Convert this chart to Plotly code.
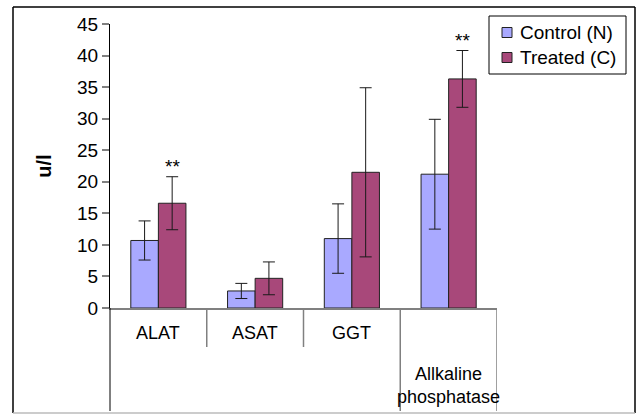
import plotly.graph_objects as go

# ---- data ----
categories = ["ALAT", "ASAT", "GGT", "Allkaline<br>phosphatase"]
control = [10.7, 2.7, 11.0, 21.2]
control_err = [3.1, 1.2, 5.5, 8.7]
treated = [16.6, 4.7, 21.5, 36.3]
treated_err = [4.2, 2.6, 13.4, 4.5]
treated_sig = ["**", "", "", "**"]
series_names = ["Control (N)", "Treated (C)"]
y_ticks = [0, 5, 10, 15, 20, 25, 30, 35, 40, 45]

# ---- layout constants ----
W, H = 639, 415
ML, MR, MT, MB = 110, 142, 24, 107
PW, PH = W - ML - MR, H - MT - MB
BARGAP = 0.43
FONT = "Liberation Sans, Arial, sans-serif"
C_CTRL = "#A9A9FF"
C_TRT = "#A8487A"


def px(xp):
    return (xp - ML) / PW


def py(yp):
    return (H - MB - yp) / PH


xs = list(range(len(categories)))

fig = go.Figure()
err_style = dict(type="data", thickness=1, width=6, color="#1a1a1a")
fig.add_trace(go.Bar(
    x=xs, y=control, name=series_names[0],
    marker=dict(color=C_CTRL, line=dict(color="#222222", width=1)),
    error_y=dict(array=control_err, **err_style),
))
fig.add_trace(go.Bar(
    x=xs, y=treated, name=series_names[1],
    marker=dict(color=C_TRT, line=dict(color="#222222", width=1)),
    error_y=dict(array=treated_err, **err_style),
))

shapes = []
annotations = []

# category separators below the axis
sep_bottom = [347, 347, 411, 411]
for i, b in enumerate(sep_bottom):
    shapes.append(dict(type="line", xref="x", x0=i + 0.5, x1=i + 0.5,
                       yref="paper", y0=0, y1=py(b),
                       line=dict(color="#808080", width=1.5)))
# y axis line extension below axis
shapes.append(dict(type="line", xref="paper", x0=0, x1=0,
                   yref="paper", y0=0, y1=py(411),
                   line=dict(color="#000000", width=1)))

# category labels
for i, c in enumerate(categories):
    multi = "<br>" in c
    annotations.append(dict(x=i, y=0, xref="x", yref="y", text=c,
                            showarrow=False, yanchor="middle",
                            yshift=-77 if multi else -25,
                            font=dict(family=FONT, size=18, color="#000")))

# significance markers above treated bars
off = (1 - BARGAP) / 4
for i, s in enumerate(treated_sig):
    if s:
        annotations.append(dict(x=i + off, y=treated[i] + treated_err[i],
                                xref="x", yref="y", text=s, showarrow=False,
                                yanchor="middle", yshift=10,
                                font=dict(family=FONT, size=19, color="#000")))

# manual legend
shapes.append(dict(type="rect", xref="paper", yref="paper",
                   x0=px(489), x1=px(626), y0=py(74), y1=py(16),
                   line=dict(color="#000", width=1), fillcolor="white"))
for k, (name, col) in enumerate(zip(series_names, [C_CTRL, C_TRT])):
    cy = 32.5 + 25 * k
    shapes.append(dict(type="rect", xref="paper", yref="paper",
                       x0=px(502), x1=px(512), y0=py(cy + 5), y1=py(cy - 5),
                       line=dict(color="#222", width=1), fillcolor=col))
    annotations.append(dict(x=px(518), y=py(cy), xref="paper", yref="paper",
                            text=name, showarrow=False, xanchor="left",
                            yanchor="middle",
                            font=dict(family=FONT, size=19, color="#000")))

# outer chart border
shapes += [
    dict(type="line", xref="paper", yref="paper", x0=px(13), x1=px(13),
         y0=py(7), y1=py(413), line=dict(color="#000", width=1.5)),
    dict(type="line", xref="paper", yref="paper", x0=px(13), x1=px(635),
         y0=py(7), y1=py(7), line=dict(color="#000", width=1.5)),
    dict(type="line", xref="paper", yref="paper", x0=px(635), x1=px(635),
         y0=py(7), y1=py(413), line=dict(color="#000", width=1.5)),
    dict(type="line", xref="paper", yref="paper", x0=px(13), x1=px(635),
         y0=py(413), y1=py(413), line=dict(color="#bbbbbb", width=1.5)),
]

fig.update_layout(
    width=W, height=H,
    margin=dict(l=ML, r=MR, t=MT, b=MB),
    paper_bgcolor="white", plot_bgcolor="white",
    barmode="group", bargap=BARGAP, bargroupgap=0,
    showlegend=False,
    font=dict(family=FONT, size=19, color="#000"),
    shapes=shapes, annotations=annotations,
    xaxis=dict(range=[-0.5, len(categories) - 0.5], showticklabels=False,
               ticks="", showgrid=False, zeroline=False,
               showline=True, linecolor="#808080", linewidth=1.5),
    yaxis=dict(range=[0, 45], tickvals=y_ticks, ticks="outside", ticklen=7,
               tickcolor="#808080", tickwidth=1.5, showgrid=False,
               zeroline=False, showline=True, linecolor="#000", linewidth=1,
               tickfont=dict(family=FONT, size=19, color="#000"),
               title=dict(text="u/l", standoff=20,
                          font=dict(family=FONT, size=20, color="#000",
                                    weight="bold"))),
)

fig.write_html("out.html")
